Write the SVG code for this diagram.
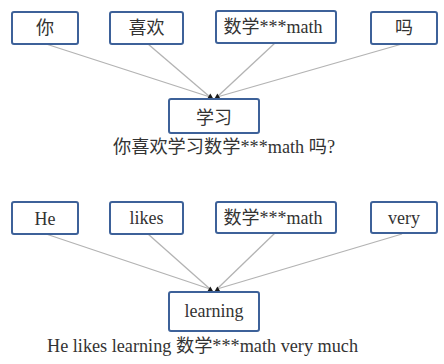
<svg xmlns="http://www.w3.org/2000/svg" width="444" height="364" viewBox="0 0 444 364">
  <style>
    .box rect { fill: #ffffff; stroke: #3d6199; stroke-width: 2; }
    .box text, .caption { fill: #333333; }
    .box text { font-size: 18px; text-anchor: middle; }
    .caption { font-size: 18px; }
    .edge { stroke: #b3b3b3; stroke-width: 1.3; fill: none; }
    .head { fill: #1a1a1a; }
  </style>
  <rect width="444" height="364" fill="#ffffff"/>

  <!-- connectors: dependency edges into the head word -->
  <g id="connectors">
    <line class="edge" x1="46" y1="44" x2="210" y2="97"/>
    <line class="edge" x1="148" y1="44" x2="210" y2="97"/>
    <line class="edge" x1="275" y1="43" x2="217" y2="97"/>
    <line class="edge" x1="402" y1="44" x2="217" y2="97"/>
    <polygon class="head" points="207,99 210.3,93.5 213.5,99"/>
    <polygon class="head" points="214.2,99 217.4,93.5 220.6,99"/>

    <line class="edge" x1="46" y1="234" x2="210" y2="289"/>
    <line class="edge" x1="148" y1="234" x2="210" y2="289"/>
    <line class="edge" x1="275" y1="233" x2="217" y2="289"/>
    <line class="edge" x1="402" y1="234" x2="217" y2="289"/>
    <polygon class="head" points="207,292 210.3,286.5 213.5,292"/>
    <polygon class="head" points="214.2,292 217.4,286.5 220.6,292"/>
  </g>

  <g font-family="Liberation Serif, Noto Sans CJK SC, serif">
  <!-- Chinese sentence -->
  <g id="n-ni" class="box"><rect x="12" y="12" width="66" height="32" rx="2"/><text x="45" y="34">你</text></g>
  <g id="n-xihuan" class="box"><rect x="110" y="12" width="73" height="32" rx="2"/><text x="146.5" y="34">喜欢</text></g>
  <g id="n-shuxue" class="box"><rect x="216" y="11" width="120" height="32" rx="2"/><text x="273" y="33">数学***math</text></g>
  <g id="n-ma" class="box"><rect x="371" y="12" width="66" height="32" rx="2"/><text x="404" y="34">吗</text></g>
  <g id="n-xuexi" class="box"><rect x="169" y="99" width="90" height="34" rx="2"/><text x="214" y="124">学习</text></g>
  <text class="caption" x="113" y="153" textLength="222" lengthAdjust="spacingAndGlyphs">你喜欢学习数学***math 吗?</text>

  <!-- English sentence -->
  <g id="n-he" class="box"><rect x="12" y="202" width="66" height="32" rx="2"/><text x="45" y="225">He</text></g>
  <g id="n-likes" class="box"><rect x="110" y="202" width="73" height="32" rx="2"/><text x="146.5" y="224">likes</text></g>
  <g id="n-shuxue2" class="box"><rect x="216" y="202" width="120" height="31" rx="2"/><text x="273" y="224">数学***math</text></g>
  <g id="n-very" class="box"><rect x="371" y="202" width="66" height="31" rx="2"/><text x="404" y="224">very</text></g>
  <g id="n-learning" class="box"><rect x="169" y="292" width="90" height="39" rx="2"/><text x="214" y="317">learning</text></g>
  <text class="caption" x="47" y="352" textLength="311" lengthAdjust="spacingAndGlyphs">He likes learning 数学***math very much</text>
  </g>
</svg>
